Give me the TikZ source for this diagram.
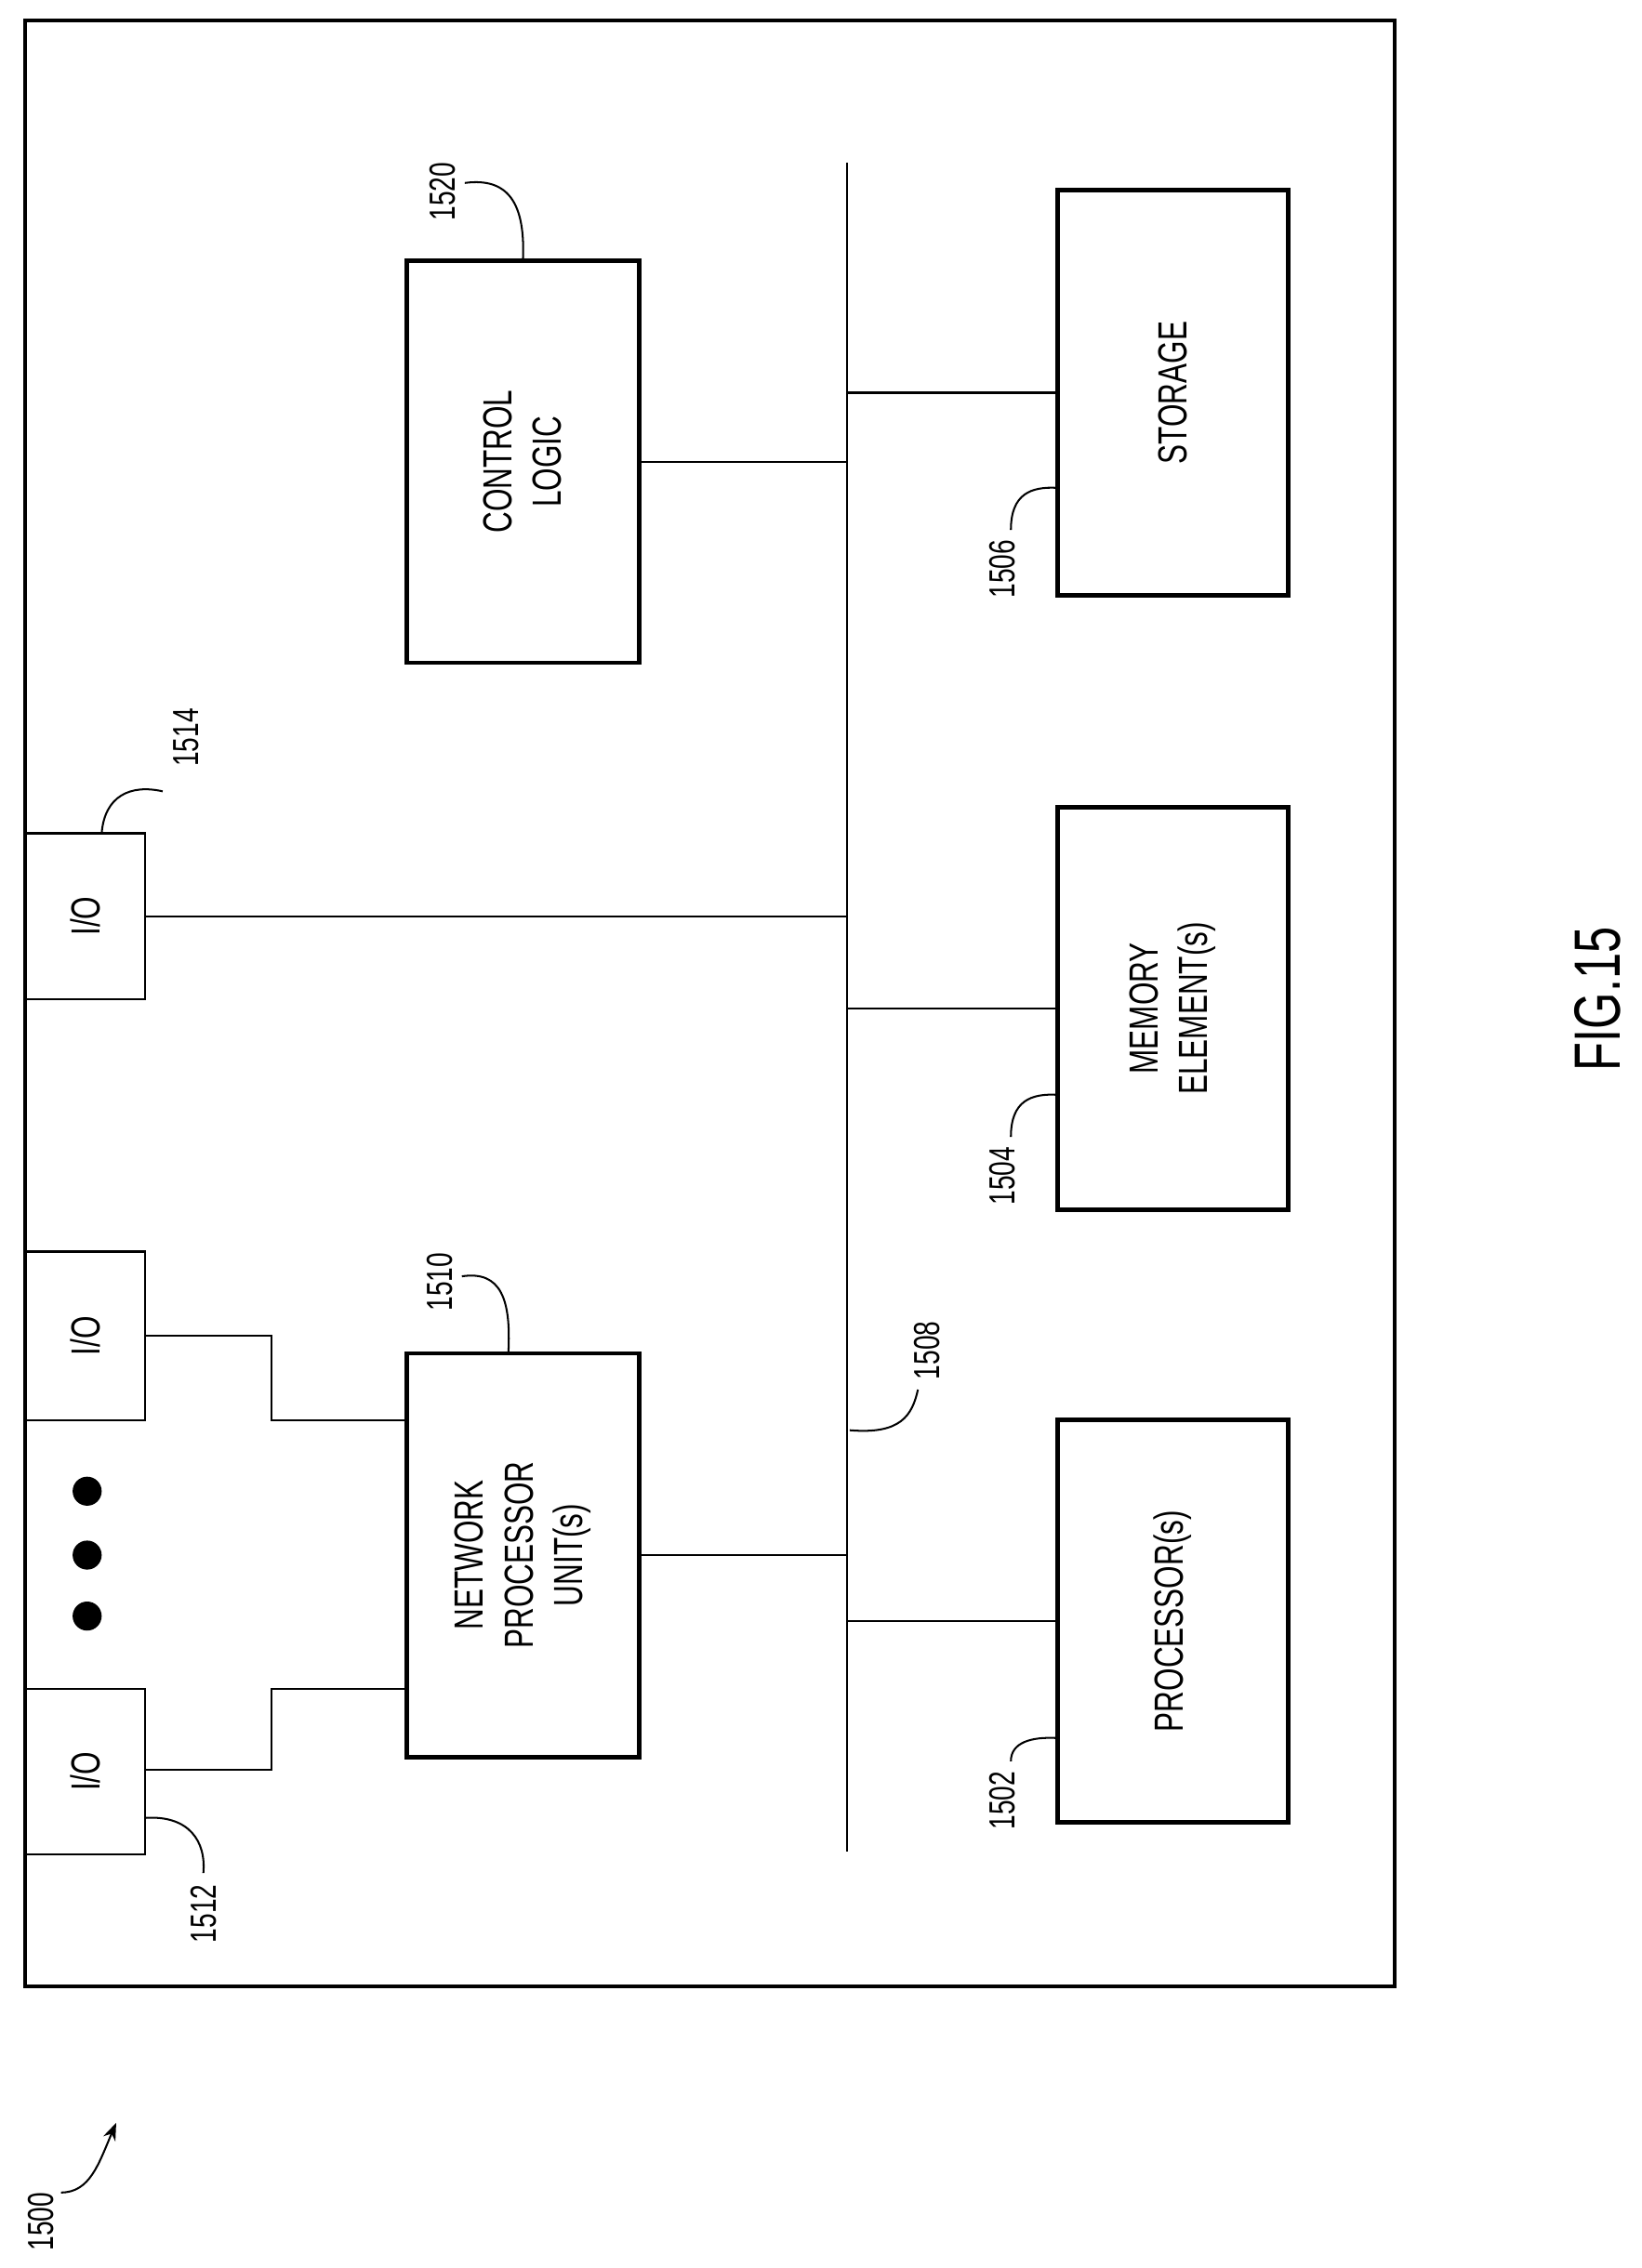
\documentclass[tikz,border=0pt]{standalone}
\usepackage{fontspec}
\setmainfont{Liberation Sans}[FakeStretch=0.72]
\usetikzlibrary{arrows.meta}
\begin{document}
\begin{tikzpicture}[x=1pt,y=-1pt,
  box/.style={draw,line width=3pt,inner sep=0pt},
  iob/.style={draw,line width=1.5pt,inner sep=0pt},
  wire/.style={line width=1.5pt},
  lead/.style={line width=1.3pt},
  txt/.style={rotate=90,align=center,font=\fontsize{28}{34}\selectfont},
  lab/.style={rotate=90,font=\fontsize{25}{30}\selectfont,inner sep=1pt}]
\useasboundingbox (0,0) rectangle (1130,1562);
\draw[line width=2.5pt] (17,14) rectangle (960,1368);
% bus
\coordinate (bt) at (583,112); \coordinate (bb) at (583,1275);
\draw[wire] (bt) -- (bb);
% boxes
\node[box,minimum width=160pt,minimum height=277pt] (cl) at (360,318) {};
\node[txt] at (cl) {CONTROL\\LOGIC};
\node[box,minimum width=159pt,minimum height=279pt] (st) at (807.5,270.5) {};
\node[txt] at (st) {STORAGE};
\node[box,minimum width=159pt,minimum height=277pt] (me) at (807.5,694.5) {};
\node[txt] at (me) {MEMORY\\ELEMENT(s)};
\node[box,minimum width=159pt,minimum height=277pt] (pr) at (807.5,1116.5) {};
\node[txt] at (pr) {PROCESSOR(s)};
\node[box,minimum width=160pt,minimum height=278pt] (np) at (360,1071) {};
\node[txt] at (np) {NETWORK\\PROCESSOR\\UNIT(s)};
\node[iob,minimum width=83pt,minimum height=114pt] (io1) at (58.5,631) {};
\node[txt] at (io1) {I/O};
\node[iob,minimum width=83pt,minimum height=116pt] (io2) at (58.5,920) {};
\node[txt] at (io2) {I/O};
\node[iob,minimum width=83pt,minimum height=114pt] (io3) at (58.5,1220) {};
\node[txt] at (io3) {I/O};
% connections
\draw[wire] (cl.east) -- (cl.east -| bt);
\draw[wire] (st.west) -- (st.west -| bt);
\draw[wire] (me.west) -- (me.west -| bt);
\draw[wire] (pr.west) -- (pr.west -| bt);
\draw[wire] (np.east) -- (np.east -| bt);
\draw[wire] (io1.east) -- (io1.east -| bt);
\draw[wire] (io2.east) -- (187,920) -- (187,978) -- (np.west |- 0,978);
\draw[wire] (io3.east |- 0,1219) -- (187,1219) -- (187,1163) -- (np.west |- 0,1163);
% dots
\foreach \y [count=\i] in {1027,1071,1113} \fill (60,\y) circle (10) coordinate (d\i);
% labels
\node[lab] (l1520) at (305,132) {1520};
\draw[lead] (320,126) .. controls (350,122) and (362,140) .. (360,180);
\node[lab] (l1510) at (303,883) {1510};
\draw[lead] (318,879) .. controls (345,875) and (352,895) .. (350,932);
\node[lab] (l1514) at (128,508) {1514};
\draw[lead] (70,574) .. controls (72,548) and (90,540) .. (112,545);
\node[lab] (l1512) at (140,1318) {1512};
\draw[lead] (100,1252) .. controls (130,1250) and (142,1268) .. (140,1290);
\node[lab] (l1506) at (690,392) {1506};
\draw[lead] (696,365) .. controls (696,340) and (710,335) .. (728,336);
\node[lab] (l1504) at (690,810) {1504};
\draw[lead] (696,783) .. controls (696,758) and (710,753) .. (728,754);
\node[lab] (l1502) at (690,1240) {1502};
\draw[lead] (696,1213) .. controls (696,1200) and (710,1196) .. (728,1197);
\node[lab] (l1508) at (638,930) {1508};
\draw[lead] (585,985) .. controls (620,988) and (628,975) .. (632,957);
\node[lab] (l1500) at (28,1530) {1500};
\draw[lead,-{Stealth[length=12pt,width=9pt]}] (42,1510) .. controls (62,1510) and (68,1490) .. (80,1462);
\node[rotate=90,font=\fontsize{45}{50}\selectfont] (fig) at (1100,688) {FIG.15};
\end{tikzpicture}
\end{document}
